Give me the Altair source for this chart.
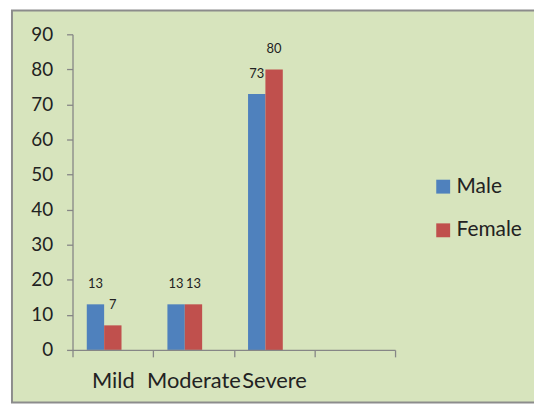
import altair as alt
import pandas as pd

categories = ["Mild", "Moderate", "Severe"]
male = [13, 13, 73]
female = [7, 13, 80]
series = ["Male", "Female"]
colors = ["#4f81bd", "#c0504d"]
y_ticks = [0, 10, 20, 30, 40, 50, 60, 70, 80, 90]

rows = []
for c, m, f in zip(categories, male, female):
    rows.append({"cat": c, "sex": "Male", "val": m})
    rows.append({"cat": c, "sex": "Female", "val": f})
df = pd.DataFrame(rows)

FONT = "Lato"
x_domain = categories + [" "]

xenc = alt.X("cat:N", sort=x_domain,
             scale=alt.Scale(domain=x_domain, paddingInner=0, paddingOuter=0),
             axis=alt.Axis(title=None, labelAngle=0, labelFontSize=22, labelFont=FONT,
                           labelColor="#222222", tickBand="extent", tickSize=7,
                           labelPadding=14, domainColor="#868686", tickColor="#868686",
                           domainWidth=1.3, tickWidth=1.3, grid=False, zindex=1))
xoff = alt.XOffset("sex:N", sort=series + ["pad"],
                   scale=alt.Scale(domain=series + ["pad"], paddingInner=0, paddingOuter=0.821))
yenc = alt.Y("val:Q", scale=alt.Scale(domain=[0, 90], nice=False),
             axis=alt.Axis(title=None, values=y_ticks, labelFontSize=19, labelFont=FONT,
                           labelColor="#222222", tickSize=6, labelPadding=14, grid=False,
                           domainColor="#868686", tickColor="#868686",
                           domainWidth=1.3, tickWidth=1.3, zindex=1))

frame = alt.Chart(pd.DataFrame({"a": [0]})).mark_rect(
    fill="#d7e4bd", stroke="#8c8c8c", strokeWidth=2
).encode(x=alt.value(-61), x2=alt.value(466), y=alt.value(-24), y2=alt.value(371))

bars = alt.Chart(df).mark_bar(size=17.5).encode(
    x=xenc, xOffset=xoff, y=yenc,
    color=alt.Color("sex:N", sort=series,
                    scale=alt.Scale(domain=series, range=colors),
                    legend=alt.Legend(title=None, orient="none", legendX=363, legendY=143,
                                      symbolType="square", symbolSize=196,
                                      symbolStrokeWidth=0, labelFontSize=21,
                                      labelFont=FONT, labelColor="#222222",
                                      rowPadding=22, labelOffset=3, zindex=1))
)

labels = alt.Chart(df).mark_text(dy=-20, fontSize=13, font=FONT, color="#222222").encode(
    x=xenc, xOffset=xoff, y=yenc, text="val:Q"
)

chart = alt.layer(frame, bars, labels).properties(
    width=325, height=318,
    autosize=alt.AutoSizeParams(type="none"),
    padding={"left": 65, "top": 25, "right": 140, "bottom": 54},
    background="white",
).configure_view(stroke=None)

chart.save("out.html", embed_options={"renderer": "svg", "actions": False})
